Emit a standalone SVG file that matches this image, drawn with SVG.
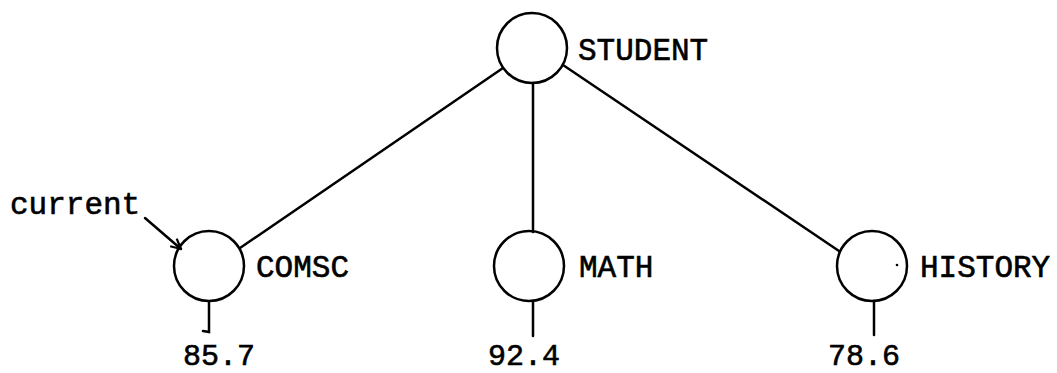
<svg xmlns="http://www.w3.org/2000/svg" width="1057" height="373" viewBox="0 0 1057 373">
<style>
.n{fill:none;stroke:#000;stroke-width:2.5}
.e{fill:none;stroke:#000;stroke-width:2.5;stroke-linecap:round}
text{font-family:"Liberation Mono","Courier New",monospace;font-size:31px;fill:#000;stroke:#000;stroke-width:0.6}
.v{font-size:30px}
</style>
<defs>
<marker id="ah" viewBox="0 0 12 12" refX="11" refY="6" markerWidth="12" markerHeight="12" markerUnits="userSpaceOnUse" orient="auto">
<path d="M1 1 L11 6 L1 11" fill="none" stroke="#000" stroke-width="2.2"/>
</marker>
</defs>
<g id="connectors">
<line class="e" x1="503" y1="68" x2="240" y2="248"/>
<line class="e" x1="533" y1="83" x2="533" y2="232"/>
<line class="e" x1="563" y1="65" x2="839" y2="251"/>
<path class="e" d="M209 302 L209 332 L203 331"/>
<line class="e" x1="533" y1="301" x2="533" y2="336"/>
<line class="e" x1="874" y1="301" x2="874" y2="335"/>
<line class="e" x1="145" y1="218" x2="181" y2="249" marker-end="url(#ah)"/>
</g>
<g id="student">
<circle class="n" cx="532" cy="48" r="35"/>
<text x="578" y="60">STUDENT</text>
</g>
<g id="comsc">
<circle class="n" cx="209" cy="266" r="35"/>
<text x="256" y="277">COMSC</text>
<text class="v" x="183" y="365">85.7</text>
</g>
<g id="math">
<circle class="n" cx="529" cy="266" r="35"/>
<text x="579" y="277">MATH</text>
<text class="v" x="488" y="365">92.4</text>
</g>
<g id="history">
<circle class="n" cx="872" cy="266" r="35"/>
<circle cx="897" cy="265" r="1.3" fill="#000"/>
<text x="920" y="277">HISTORY</text>
<text class="v" x="828" y="365">78.6</text>
</g>
<g id="current">
<text x="10" y="214">current</text>
</g>
</svg>
